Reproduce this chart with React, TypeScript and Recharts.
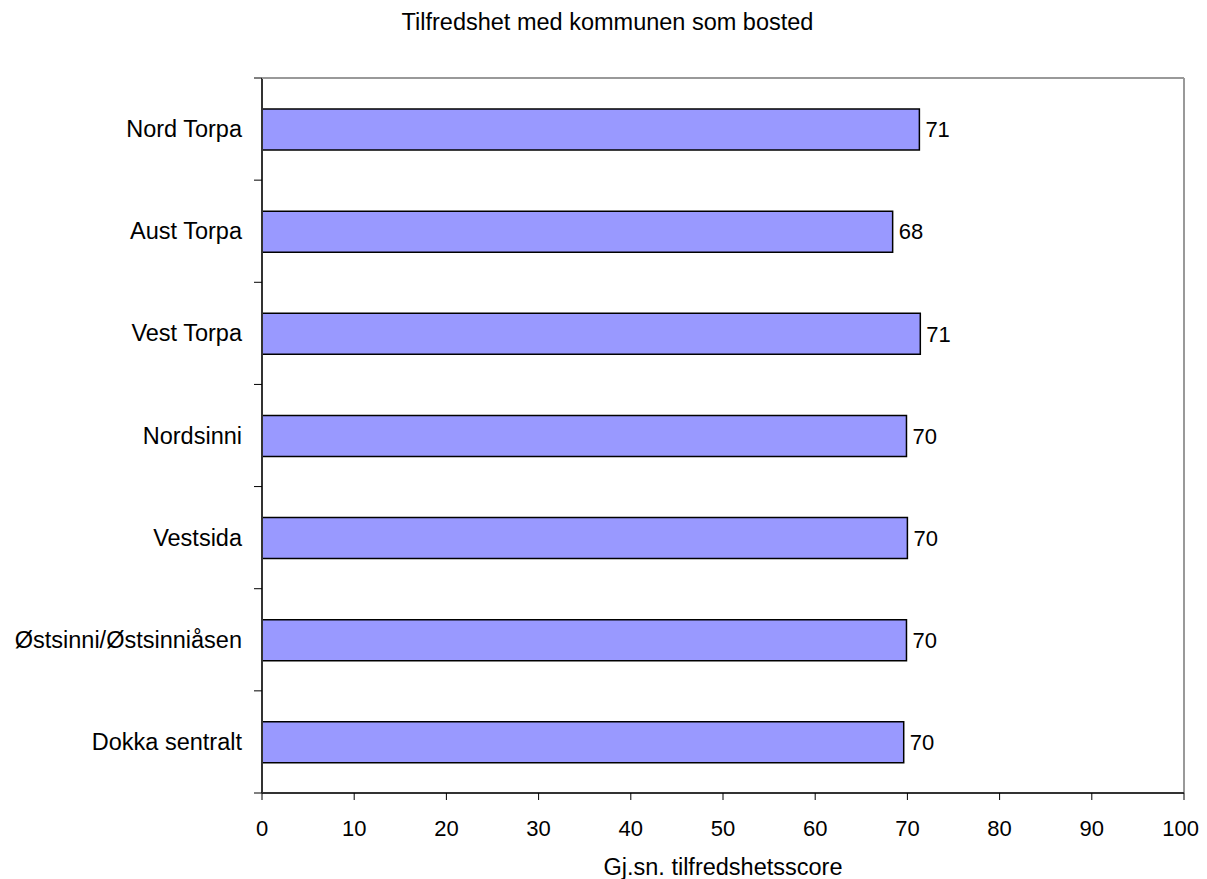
import { BarChart, Bar, XAxis, YAxis, LabelList, ReferenceLine, Label } from 'recharts'

const areas = [
	'Nord Torpa',
	'Aust Torpa',
	'Vest Torpa',
	'Nordsinni',
	'Vestsida',
	'Østsinni/Østsinniåsen',
	'Dokka sentralt',
]
const scores = [71.3, 68.4, 71.4, 69.9, 70.0, 69.9, 69.6]
const scoreTicks = [0, 10, 20, 30, 40, 50, 60, 70, 80, 90, 100]

const data = areas.map((name, i) => ({ name, score: scores[i] }))

const FONT = '"Liberation Sans", Arial, sans-serif'
const LABEL_GAP = 20
const TICK_LEN = 8

// category name on one line, plus the short marks at the band edges
const AreaTick = (props: any) => {
	const { x, y, payload, index, visibleTicksCount, height } = props
	const band = (height ?? 715) / (visibleTicksCount || areas.length)
	const axisX = x + LABEL_GAP
	const isLast = index === visibleTicksCount - 1
	return (
		<g>
			<line x1={axisX - TICK_LEN} y1={y - band / 2} x2={axisX} y2={y - band / 2} stroke="#000" />
			{isLast && (
				<line x1={axisX - TICK_LEN} y1={y + band / 2} x2={axisX} y2={y + band / 2} stroke="#000" />
			)}
			<text
				x={x}
				y={y}
				textAnchor="end"
				dominantBaseline="central"
				fill="#000"
				fontSize={23.5}
				fontFamily={FONT}
			>
				{payload.value}
			</text>
		</g>
	)
}

const App = () => {
	return (
		<div style={{ position: 'relative', width: 1191, height: 871, fontFamily: FONT }}>
			<div
				style={{
					position: 'absolute',
					top: 3,
					left: 4,
					width: 1191,
					textAlign: 'center',
					fontSize: 23.5,
					lineHeight: '22px',
					color: '#000',
				}}
			>
				Tilfredshet med kommunen som bosted
			</div>
			<BarChart
				width={1191}
				height={871}
				data={data}
				layout="vertical"
				margin={{ top: 69, right: 15, left: 0, bottom: 0 }}
			>
				<YAxis
					yAxisId="cat"
					type="category"
					dataKey="name"
					width={254}
					axisLine={{ stroke: '#333', strokeWidth: 2 }}
					tickLine={false}
					tickSize={0}
					tickMargin={LABEL_GAP}
					tick={<AreaTick />}
				/>
				<XAxis
					type="number"
					domain={[0, 100]}
					ticks={scoreTicks}
					height={86}
					tickSize={7}
					tickMargin={20}
					axisLine={{ stroke: '#333', strokeWidth: 2 }}
					tickLine={{ stroke: '#000', strokeWidth: 1 }}
					tick={{ fill: '#000', fontSize: 22, fontFamily: FONT }}
				>
					<Label
						value="Gj.sn. tilfredshetsscore"
						position="insideBottom"
						offset={4}
						style={{ fill: '#000', fontSize: 23.5, fontFamily: FONT }}
					/>
				</XAxis>
				{/* grey top edge of the frame */}
				<XAxis
					xAxisId="top"
					orientation="top"
					type="number"
					domain={[0, 100]}
					height={1}
					tick={false}
					tickLine={false}
					axisLine={{ stroke: '#999', strokeWidth: 2 }}
				/>
				{/* grey right edge of the frame */}
				<ReferenceLine yAxisId="cat" x={100} stroke="#999" strokeWidth={2} />
				<Bar
					yAxisId="cat"
					dataKey="score"
					barSize={41}
					fill="#9999FF"
					stroke="#000"
					strokeWidth={1.5}
					isAnimationActive={false}
				>
					<LabelList
						dataKey="score"
						position="right"
						offset={6}
						formatter={(v: number) => Math.round(v)}
						style={{ fill: '#000', fontSize: 22, fontFamily: FONT }}
					/>
				</Bar>
			</BarChart>
		</div>
	)
}

export default App
